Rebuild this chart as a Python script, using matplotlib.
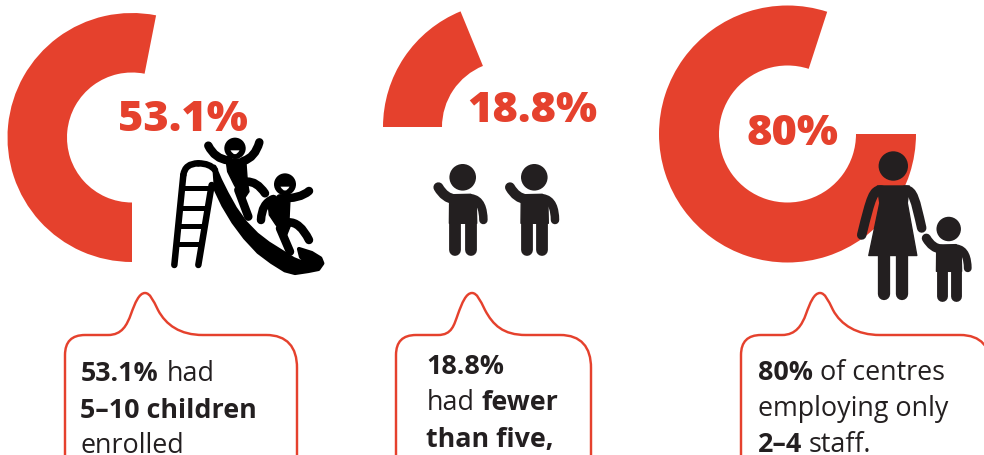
import matplotlib
matplotlib.use('Agg')
import matplotlib.pyplot as plt
from matplotlib.path import Path
from matplotlib.patches import PathPatch, Circle, Polygon

RED = '#E5412D'
DARK = '#231F20'

shares = [53.1, 18.8, 80.0]
start_angles = [270, 180, 0]
centres = [(132, 137.5), (508, 127), (787.5, 134)]
radii = [124.5, 125, 128.5]
ring_widths = [59.5, 59, 60]
share_label_pos = [(183, 131), (532, 122), (792.5, 145)]

# callout text, as (x, baseline, string, weight)
callout_1 = [(80.5, 381, '53.1%', 'bold'), (167, 381, 'had', 'normal'),
             (80.5, 418, '5–10 children', 'bold'), (80.5, 453, 'enrolled', 'normal')]
callout_2 = [(426, 374, '18.8%', 'bold'), (426.5, 410, 'had', 'normal'),
             (481, 410, 'fewer', 'bold'), (426.5, 447, 'than five,', 'bold')]
callout_3 = [(758, 380, '80%', 'bold'), (820, 380, 'of centres', 'normal'),
             (758, 416, 'employing only', 'normal'), (758, 452, '2–4', 'bold'),
             (809, 452, 'staff.', 'normal')]

fig = plt.figure(figsize=(9.84, 4.55), dpi=100)
ax = fig.add_axes([0, 0, 1, 1])
plt.rcParams['font.family'] = ['Open Sans', 'DejaVu Sans']


def up(y):
    return 455 - y


def stroke(pts, width, color='black', z=5):
    # smooth round-capped line through the points (quadratic segments)
    verts = [(x, up(y)) for x, y in pts]
    if len(verts) == 2:
        codes = [Path.MOVETO, Path.LINETO]
    elif len(verts) == 3:
        codes = [Path.MOVETO, Path.CURVE3, Path.CURVE3]
    else:
        codes = [Path.MOVETO, Path.CURVE4, Path.CURVE4, Path.CURVE4]
    ax.add_patch(PathPatch(Path(verts, codes), fill=False, ec=color, lw=width * 0.72,
                           capstyle='round', joinstyle='round', zorder=z))


def shape(pts, color, z=5, lw=1):
    ax.add_patch(Polygon([(x, up(y)) for x, y in pts], closed=True, fc=color, ec=color,
                         lw=lw, joinstyle='round', zorder=z))


def head(x, y, r, color=DARK, z=5):
    ax.add_patch(Circle((x, up(y)), r, fc=color, ec='none', zorder=z))


def child(hx, hy, s=1.0):
    head(hx, hy, 13.3 * s)
    p = lambda dx, dy: (hx + dx * s, hy + dy * s)
    shape([p(-13, 17.5), p(8, 17), p(13.5, 22), p(14, 46), p(-13.3, 46)], DARK)
    for dx in (-7.6, 7.9):
        stroke([p(dx, 44), p(dx, 73)], 11.8 * s, DARK)
    stroke([p(-24.3, 10), p(-18, 21), p(-8, 22)], 10 * s, DARK)
    stroke([p(8, 21), p(18, 22), p(20.5, 32), p(20.7, 42.7)], 8.5 * s, DARK)


def woman(hx, hy):
    head(hx, hy, 14.7)
    p = lambda dx, dy: (hx + dx, hy + dy)
    shape([p(-16, 20), p(16, 20), p(14, 37), p(23.5, 89.5), p(-24.5, 89.5), p(-13.5, 37)], DARK)
    for dx in (-9, 9):
        stroke([p(dx, 88), p(dx, 128)], 12.3, DARK)
    stroke([p(-31.6, 69), p(-22, 30), p(-20, 24), p(-12, 24)], 9.5, DARK)
    stroke([p(28.4, 62), p(22, 34), p(20, 24), p(12, 24)], 9.5, DARK)


def bubble(left, right, peak, base_l, base_r, r_l=20, r_r=31, top=335, peak_y=293, bottom=470):
    # speech bubble outline with the tail pointing up; runs off the canvas at the bottom
    v = [(left, bottom), (left, top + r_l), (left, top), (left + r_l, top), (base_l, top),
         (base_l + 14, top), (peak - 18, top - 10), (peak - 14, top - 21),
         (peak - 10, peak_y + 10), (peak - 6, peak_y), (peak, peak_y),
         (peak + 5, peak_y), (peak + 8, peak_y + 7), (peak + 13, peak_y + 17),
         (peak + 21, top - 10), (base_r - 23, top), (base_r, top),
         (right - r_r, top),
         (right - 10, top), (right, top + 12), (right, top + r_r + 2), (right, bottom)]
    c = [Path.MOVETO, Path.LINETO, Path.CURVE3, Path.CURVE3, Path.LINETO,
         Path.CURVE4, Path.CURVE4, Path.CURVE4,
         Path.CURVE4, Path.CURVE4, Path.CURVE4,
         Path.CURVE4, Path.CURVE4, Path.CURVE4,
         Path.CURVE4, Path.CURVE4, Path.CURVE4,
         Path.LINETO,
         Path.CURVE4, Path.CURVE4, Path.CURVE4, Path.LINETO]
    ax.add_patch(PathPatch(Path([(x, up(y)) for x, y in v], c), fill=False, ec=RED,
                           lw=1.75, joinstyle='round', zorder=3))


def sl(x, y):
    # slide icon is laid out on a 3x grid anchored at (165, 135)
    return (165 + x / 3, 135 + y / 3)


def sl_stroke(pts, width=8.5):
    stroke([sl(x, y) for x, y in pts], width)


# ring segments, one per share
for share, start, (cx, cy), R, w in zip(shares, start_angles, centres, radii, ring_widths):
    ax.pie([share, 100 - share], colors=[RED, 'none'], startangle=start, counterclock=False,
           center=(cx, up(cy)), radius=R, frame=True, wedgeprops=dict(width=w, linewidth=0))

for share, (x, y) in zip(shares, share_label_pos):
    ax.text(x, up(y), f'{share:g}%', color=RED, fontsize=31.2, fontweight=800,
            ha='center', va='baseline', zorder=4)

# ladder
sl_stroke([(28, 390), (55, 120)], 6.5)
sl_stroke([(55, 120), (60, 85), (100, 85)], 6.5)
sl_stroke([(100, 85), (135, 85), (150, 105)], 6.5)
sl_stroke([(100, 390), (140, 150)], 6.5)
for yr, x0, x1 in [(160, 55, 130), (218, 48, 122), (272, 42, 112), (328, 36, 105)]:
    sl_stroke([(x0, yr), (x1, yr)], 5)

# slide
slide = [(148, 95), (165, 135), (185, 175), (210, 220), (240, 262), (275, 298), (310, 325),
         (350, 350), (385, 372), (415, 384), (428, 382), (408, 366), (402, 342), (440, 354),
         (466, 370), (472, 385), (460, 402), (430, 408), (390, 414), (360, 406), (320, 381),
         (280, 351), (240, 308), (205, 261), (175, 211), (153, 165)]
shape([sl(x, y) for x, y in slide], 'black', lw=3)

# first kid on the slide
head(*sl(210, 40), 10.7, 'black')
sl_stroke([(130, 32), (150, 72), (190, 76)])
sl_stroke([(283, 22), (270, 68), (235, 78)])
shape([sl(x, y) for x, y in [(183, 72), (242, 72), (247, 140), (252, 170), (235, 195), (208, 150), (188, 110)]], 'black')
sl_stroke([(245, 140), (275, 138), (300, 175)])
sl_stroke([(220, 165), (250, 245)])

# second kid
head(*sl(360, 148), 11, 'black')
sl_stroke([(432, 168), (405, 192), (345, 190)])
sl_stroke([(325, 192), (290, 205), (288, 255)])
shape([sl(x, y) for x, y in [(308, 192), (375, 190), (372, 255), (377, 270), (365, 300), (333, 270), (313, 240)]], 'black')
sl_stroke([(370, 262), (405, 260), (432, 315)])
sl_stroke([(345, 280), (375, 350)])

# white smiles
for (x, y) in [(210, 46), (360, 155)]:
    mx, my = sl(x, y)
    ax.add_patch(PathPatch(Path([(mx - 4.5, up(my)), (mx, up(my + 8)), (mx + 4.5, up(my)), (mx - 4.5, up(my))],
                                [Path.MOVETO, Path.CURVE3, Path.CURVE3, Path.CLOSEPOLY]),
                           fc='white', ec='none', zorder=6))

child(462.7, 177.3)
child(534.3, 177.3)
woman(893.3, 166)
child(948.7, 229, 0.92)

bubble(65, 297, 145, 108, 203)
bubble(396, 591, 472, 438, 526)
bubble(741, 991, 820, 782, 880)

for block in (callout_1, callout_2, callout_3):
    for x, y, s, weight in block:
        ax.text(x, up(y), s, color=DARK, fontsize=19.4, fontweight=weight,
                ha='left', va='baseline', zorder=4)

ax.set_xlim(0, 984)
ax.set_ylim(0, 455)
ax.set_aspect('auto')
ax.axis('off')
fig.savefig('out.png', dpi=100)
